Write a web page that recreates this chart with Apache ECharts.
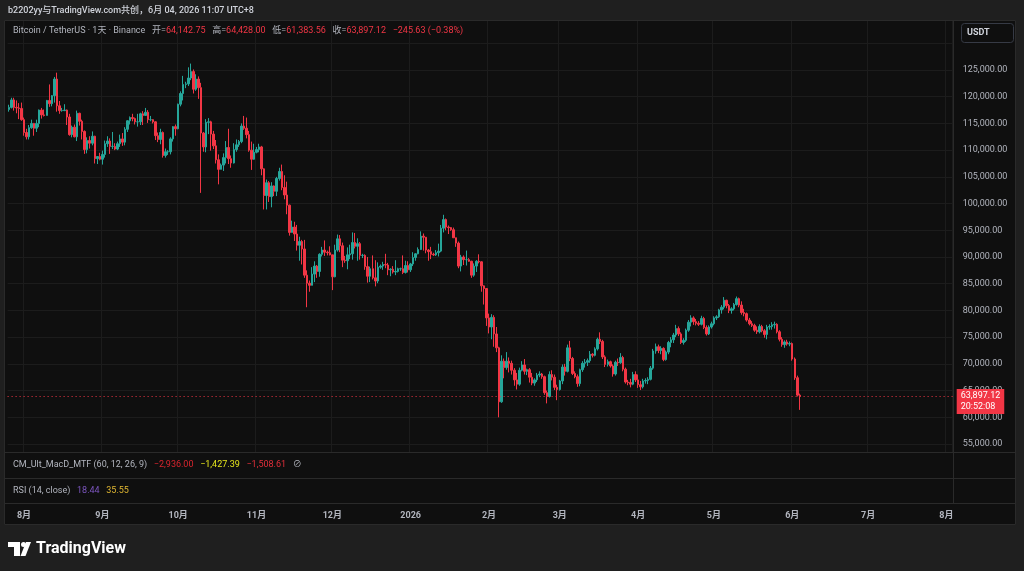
<!DOCTYPE html>
<html>
<head>
<meta charset="utf-8">
<title>BTCUSDT 1D</title>
<script src="https://cdn.jsdelivr.net/npm/echarts@6.0.0/dist/echarts.min.js"></script>
<style>
  html, body { margin: 0; padding: 0; background: #1f1f1f; }
  #chart { width: 1024px; height: 571px; }
</style>
</head>
<body>
<div id="chart"></div>
<script>
// daily candles, Binance BTC/USDT, 2025-07-26 .. 2026-06-04 (values in thousands of USDT)
const startDate = Date.UTC(2025, 6, 26);
const axisDays = 374; // axis runs on to 2026-08-03, empty after the last candle
const firstOpen = 117.6;

const closes = [
  // Jul 26-31
  118.0, 119.4, 118.0, 117.9, 117.8, 115.7,
  // Aug
  113.3, 112.5, 114.2, 115.0, 114.1, 115.0, 117.5, 116.6, 116.5, 119.3,
  118.7, 120.2, 123.3, 118.3, 117.4, 117.4, 117.5, 116.2, 112.9, 114.3,
  112.5, 116.9, 115.4, 113.5, 110.1, 111.8, 111.3, 112.6, 108.4, 108.8, 108.3,
  // Sep
  109.2, 111.2, 111.7, 110.7, 110.7, 110.2, 111.2, 112.1, 111.5, 113.9,
  115.5, 116.1, 115.9, 115.3, 115.3, 116.8, 116.5, 117.1, 115.7, 115.7,
  115.3, 112.7, 112.0, 113.3, 109.0, 109.7, 109.7, 112.1, 114.4, 114.0,
  // Oct
  118.6, 120.6, 122.3, 122.4, 123.5, 124.7, 121.4, 123.3, 121.7, 113.2,
  110.6, 115.2, 115.3, 113.0, 110.8, 108.2, 106.4, 107.2, 108.6, 110.5,
  108.4, 107.6, 110.1, 111.0, 111.6, 114.5, 114.1, 112.9, 110.0, 108.3, 109.6,
  // Nov
  110.1, 110.6, 106.5, 101.5, 103.9, 101.3, 103.3, 102.3, 104.7, 106.0,
  103.0, 101.6, 99.7, 94.6, 95.6, 94.3, 92.2, 92.9, 91.5, 86.6,
  85.1, 84.7, 86.8, 88.3, 87.3, 90.5, 91.3, 90.9, 90.8, 90.4,
  // Dec
  86.3, 91.3, 93.4, 92.1, 89.4, 89.3, 90.4, 90.6, 92.7, 92.0,
  92.5, 90.3, 90.3, 88.2, 86.4, 87.8, 86.1, 85.5, 88.1, 88.3,
  88.6, 88.5, 87.6, 87.7, 87.2, 87.3, 87.8, 87.8, 87.1, 88.4, 87.6,
  // Jan 2026
  88.7, 89.9, 90.6, 91.4, 93.9, 93.7, 91.3, 91.0, 90.5, 90.4,
  90.8, 91.1, 95.4, 97.0, 95.6, 95.5, 95.1, 93.6, 92.6, 88.3,
  90.0, 89.5, 89.5, 89.2, 86.6, 88.3, 89.2, 89.1, 84.6, 84.1, 78.6,
  // Feb
  76.9, 78.7, 75.6, 73.0, 62.9, 70.5, 69.3, 70.5, 70.1, 68.8,
  67.0, 66.2, 68.8, 69.8, 68.6, 68.9, 67.5, 66.4, 67.0, 67.9,
  68.1, 67.6, 64.6, 63.9, 68.0, 67.5, 65.6, 65.2,
  // Mar
  66.8, 69.4, 68.6, 73.0, 71.0, 68.2, 67.6, 66.3, 68.9, 70.1,
  70.3, 70.6, 71.8, 71.6, 72.8, 74.6, 74.2, 71.3, 69.9, 70.4,
  69.6, 68.1, 70.3, 70.2, 71.2, 69.0, 66.6, 66.5, 66.2, 68.0, 67.0,
  // Apr
  66.1, 65.7, 66.8, 66.9, 67.1, 69.2, 72.4, 73.2, 72.5, 72.9,
  70.8, 72.2, 74.0, 74.5, 75.4, 76.6, 75.6, 74.0, 74.4, 76.3,
  77.8, 78.6, 77.9, 77.6, 77.4, 78.5, 76.8, 75.6, 76.9, 77.5,
  // May
  78.6, 78.8, 80.1, 80.6, 81.9, 80.9, 80.0, 80.3, 81.1, 82.2,
  81.0, 79.6, 79.4, 78.2, 77.5, 77.2, 76.3, 76.0, 77.0, 76.2,
  75.5, 76.9, 77.0, 77.3, 77.4, 76.0, 74.6, 73.6, 74.1, 73.7, 73.8,
  // Jun 1-4
  70.9, 67.4, 64.14275, 63.89712,
];

const highs = [
  118.5, 119.8, 119.8, 119.3, 118.8, 118.9,
  116.1, 114.0, 114.7, 115.7, 115.1, 115.7, 117.6, 117.9, 117.6, 119.4,
  122.3, 120.3, 123.7, 124.5, 119.2, 117.9, 118.6, 117.6, 116.8, 114.6,
  114.8, 117.4, 117.0, 115.7, 113.7, 112.4, 112.6, 113.5, 112.7, 108.9, 109.5,
  109.9, 111.8, 112.6, 112.2, 113.4, 111.3, 111.6, 112.9, 113.2, 114.3,
  115.6, 116.3, 116.8, 116.1, 116.8, 117.0, 117.3, 117.9, 117.5, 116.4,
  115.8, 115.4, 113.3, 114.0, 113.5, 110.3, 110.0, 112.4, 114.5, 114.8,
  118.7, 121.0, 123.9, 122.8, 125.5, 126.2, 125.1, 124.2, 123.8, 122.6,
  113.4, 115.8, 116.0, 115.5, 113.6, 111.9, 109.2, 107.5, 109.4, 111.7,
  114.0, 109.0, 111.3, 112.0, 111.9, 115.0, 116.4, 116.1, 113.6, 111.6, 111.2,
  110.6, 111.2, 110.8, 106.6, 104.5, 104.2, 104.0, 103.4, 105.0, 106.7,
  107.3, 105.3, 104.1, 99.8, 96.8, 96.6, 96.0, 93.8, 93.2, 93.2,
  87.5, 85.6, 88.1, 89.2, 88.5, 90.7, 91.9, 93.1, 91.2, 92.0,
  90.4, 92.3, 94.2, 94.1, 92.7, 90.2, 91.8, 92.3, 94.6, 94.5,
  93.5, 92.8, 90.6, 90.5, 90.0, 88.2, 90.3, 89.4, 89.0, 88.6,
  89.1, 90.6, 88.9, 87.9, 88.3, 89.4, 88.0, 88.0, 90.3, 89.3, 89.2,
  88.9, 90.9, 90.7, 91.8, 94.8, 94.4, 93.6, 91.5, 91.9, 90.8,
  91.3, 92.5, 96.0, 97.9, 97.2, 95.9, 95.6, 95.5, 93.6, 92.9,
  90.4, 90.3, 91.2, 89.8, 89.3, 88.8, 89.4, 90.5, 89.2, 84.7, 84.1,
  79.4, 79.3, 79.1, 76.9, 73.2, 71.6, 71.0, 72.2, 71.2, 70.6,
  69.2, 68.3, 69.3, 70.5, 70.9, 69.1, 69.2, 68.3, 67.3, 68.3,
  68.6, 68.3, 67.8, 65.0, 68.6, 68.8, 68.0, 66.1,
  67.0, 69.9, 70.0, 73.6, 74.3, 71.3, 68.6, 68.0, 69.1, 70.5,
  70.9, 71.0, 72.4, 72.0, 73.1, 74.9, 75.9, 74.5, 71.6, 70.8,
  70.6, 69.9, 70.6, 71.0, 72.0, 71.5, 69.3, 67.0, 67.2, 68.5, 68.6,
  68.0, 66.8, 67.2, 67.3, 67.5, 69.6, 72.8, 73.8, 73.6, 73.3,
  73.1, 72.5, 74.3, 75.0, 75.8, 77.3, 77.0, 75.9, 74.8, 76.6,
  78.2, 79.1, 78.9, 78.4, 78.0, 79.0, 78.8, 77.2, 77.2, 77.9,
  78.9, 79.1, 80.3, 81.0, 82.5, 82.0, 81.2, 80.6, 81.4, 82.6,
  82.4, 81.7, 80.3, 79.6, 78.6, 78.0, 77.5, 77.0, 77.4, 77.3,
  76.5, 77.3, 77.4, 77.8, 77.9, 77.6, 76.3, 75.0, 74.4, 74.5, 74.2,
  74.0, 71.2, 67.8, 64.428,
];

const lows = [
  117.2, 117.8, 117.4, 116.9, 115.8, 115.5,
  112.7, 112.0, 112.0, 114.0, 112.7, 113.4, 114.3, 115.9, 116.3, 116.5,
  118.1, 118.2, 118.9, 117.2, 116.8, 117.2, 117.3, 114.7, 112.7, 112.4,
  112.4, 111.7, 114.6, 112.0, 109.3, 109.4, 110.3, 110.9, 107.5, 107.4, 108.1,
  107.3, 108.6, 110.6, 109.3, 110.2, 110.0, 110.0, 110.6, 110.8, 110.9,
  113.4, 114.8, 115.4, 114.8, 114.4, 114.7, 114.7, 116.4, 115.1, 115.4,
  115.0, 111.9, 111.5, 111.1, 108.6, 108.6, 109.1, 109.2, 111.6, 112.7,
  113.9, 118.2, 119.3, 121.6, 122.0, 123.1, 120.6, 121.1, 119.6, 102.0,
  109.7, 109.6, 113.0, 109.9, 110.2, 107.5, 103.6, 106.4, 106.1, 107.5,
  107.4, 106.7, 107.5, 109.7, 110.6, 111.3, 113.8, 112.2, 109.7, 106.3, 108.2,
  109.4, 109.6, 105.3, 98.9, 98.9, 100.3, 99.3, 101.4, 101.4, 104.3,
  102.5, 100.8, 98.0, 94.0, 94.6, 93.0, 91.2, 89.3, 88.6, 86.1,
  80.6, 83.5, 84.7, 85.3, 86.1, 86.3, 90.1, 90.2, 90.3, 90.3,
  83.8, 86.2, 91.0, 90.9, 88.1, 88.9, 87.7, 89.6, 89.5, 91.6,
  89.3, 89.5, 89.8, 87.6, 85.2, 85.3, 85.8, 84.5, 85.1, 87.8,
  87.6, 87.9, 86.6, 86.4, 86.9, 86.6, 87.1, 87.4, 86.8, 86.9, 87.1,
  87.2, 88.3, 89.3, 90.5, 91.3, 91.2, 90.7, 89.3, 89.6, 90.2,
  90.2, 90.1, 90.9, 94.6, 95.0, 94.3, 94.9, 93.6, 91.9, 87.9,
  87.3, 88.5, 88.4, 89.1, 86.1, 86.3, 87.2, 88.8, 83.5, 81.1, 77.1,
  75.7, 74.6, 73.2, 72.2, 60.0, 62.7, 67.3, 68.9, 68.4, 68.0,
  65.9, 65.2, 65.9, 68.6, 68.0, 67.9, 66.5, 66.0, 65.9, 66.6,
  67.5, 67.2, 64.2, 62.6, 63.7, 66.9, 65.1, 63.2,
  65.0, 66.2, 67.8, 68.4, 70.5, 67.9, 67.3, 65.7, 65.8, 68.5,
  69.3, 69.6, 70.2, 71.2, 71.4, 72.5, 73.7, 70.9, 69.4, 69.5,
  69.3, 67.6, 67.8, 69.6, 70.0, 68.6, 66.3, 66.0, 65.6, 66.0, 66.6,
  65.5, 65.1, 65.4, 66.3, 66.2, 66.9, 68.9, 71.9, 72.0, 71.8,
  70.5, 70.6, 71.8, 73.1, 73.9, 75.0, 75.2, 73.7, 73.6, 74.1,
  76.0, 77.0, 77.3, 77.2, 77.1, 77.2, 76.5, 75.3, 75.4, 76.6,
  77.2, 78.2, 78.6, 79.4, 80.2, 80.4, 79.5, 79.4, 80.0, 80.9,
  80.6, 79.2, 78.9, 77.9, 77.2, 76.9, 76.0, 75.6, 75.7, 75.9,
  74.9, 74.6, 76.4, 76.4, 76.6, 75.7, 74.2, 73.2, 73.0, 73.4, 73.3,
  70.6, 67.0, 63.9, 61.38356,
];

const lastPrice = 63.89712;
const yTicks = { min: 50, max: 135, step: 5 };

const UP = '#26a69a';
const DOWN = '#f23645';
const PANEL = '#0f0f0f';
const OUTER = '#1f1f1f';
const BORDER = '#2a2a2a';
const GRIDLINE = '#1c1c1c';
const TEXT = '#b2b5be';
const FONT = 'Roboto, "Noto Sans CJK SC", sans-serif';

// category dates
const dates = [];
for (let i = 0; i < axisDays; i++) {
  dates.push(new Date(startDate + i * 86400000).toISOString().slice(0, 10));
}

// crypto trades round the clock: each day's open is the previous day's close
const candles = closes.map((c, i) => {
  const o = i ? closes[i - 1] : firstOpen;
  return [o, c, Math.min(lows[i], o, c), Math.max(highs[i], o, c)];
});

const isMonthStart = (idx, val) => val.slice(8) === '01';

const chart = echarts.init(document.getElementById('chart'));

const option = {
  backgroundColor: PANEL,
  animation: false,
  grid: {
    left: 7.6, right: 71.3, top: 16.57, bottom: 100.29,
    outerBoundsMode: 'none',
  },
  xAxis: {
    type: 'category',
    data: dates,
    boundaryGap: true,
    axisLine: { show: false },
    axisTick: { show: false },
    axisLabel: {
      interval: isMonthStart,
      hideOverlap: false,
      margin: 41,
      color: TEXT,
      fontFamily: FONT,
      fontSize: 9,
      fontWeight: 'bold',
      formatter: (v) => {
        const m = +v.slice(5, 7);
        return m === 1 ? v.slice(0, 4) : m + '月';
      },
    },
    splitLine: { show: true, interval: isMonthStart, lineStyle: { color: GRIDLINE } },
  },
  yAxis: {
    type: 'value',
    position: 'right',
    min: yTicks.min,
    max: yTicks.max,
    interval: yTicks.step,
    axisLine: { show: false },
    axisTick: { show: false },
    axisLabel: {
      margin: 10,
      color: TEXT,
      fontFamily: FONT,
      fontSize: 9,
      formatter: (v) => (v <= 50 || v >= 130) ? '' :
        (v * 1000).toLocaleString('en-US') + '.00',
    },
    splitLine: { lineStyle: { color: GRIDLINE } },
  },
  series: [
    {
      type: 'candlestick',
      data: candles,
      barWidth: 2,
      itemStyle: {
        color: UP,
        color0: DOWN,
        borderColor: UP,
        borderColor0: DOWN,
        borderWidth: 1,
      },
      markLine: {
        silent: true,
        symbol: ['none', 'none'],
        lineStyle: { color: DOWN, type: [1, 3], width: 1 },
        label: {
          position: 'end',
          distance: 4,
          formatter: '63,897.12\n20:52:08',
          backgroundColor: DOWN,
          color: '#fff',
          fontFamily: FONT,
          fontSize: 9,
          lineHeight: 11,
          padding: [2, 4, 1, 4],
          offset: [0, 5],
        },
        data: [{ yAxis: lastPrice }],
      },
    },
  ],
  graphic: [
    // empty indicator panes under the price pane
    { type: 'rect', z: 100, shape: { x: 5, y: 452, width: 948, height: 51 }, style: { fill: PANEL } },
    // outer frame
    { type: 'rect', z: 100, shape: { x: 0, y: 0, width: 1024, height: 20 }, style: { fill: OUTER } },
    { type: 'rect', z: 100, shape: { x: 0, y: 525, width: 1024, height: 46 }, style: { fill: OUTER } },
    { type: 'rect', z: 100, shape: { x: 0, y: 0, width: 4, height: 571 }, style: { fill: OUTER } },
    { type: 'rect', z: 100, shape: { x: 1016, y: 0, width: 8, height: 571 }, style: { fill: OUTER } },
    { type: 'rect', z: 101, shape: { x: 4.5, y: 20.5, width: 1011, height: 504 }, style: { fill: null, stroke: BORDER } },
    { type: 'line', z: 101, shape: { x1: 4, y1: 452.5, x2: 1016, y2: 452.5 }, style: { stroke: BORDER } },
    { type: 'line', z: 101, shape: { x1: 4, y1: 478.5, x2: 1016, y2: 478.5 }, style: { stroke: BORDER } },
    { type: 'line', z: 101, shape: { x1: 4, y1: 503.5, x2: 1016, y2: 503.5 }, style: { stroke: BORDER } },
    { type: 'line', z: 101, shape: { x1: 953.5, y1: 20, x2: 953.5, y2: 503 }, style: { stroke: BORDER } },
    // currency box
    { type: 'rect', z: 102, shape: { x: 961.5, y: 23.5, width: 52, height: 19, r: 3 }, style: { fill: PANEL, stroke: '#363a45' } },
    { type: 'text', z: 103, x: 967, y: 33, style: { text: 'USDT', fill: '#d1d4dc', font: 'bold 9px ' + FONT, verticalAlign: 'middle' } },
    // header
    {
      type: 'text', z: 103, x: 8, y: 11,
      style: { text: 'b2202yy与TradingView.com共创，6月 04, 2026 11:07 UTC+8', fill: '#d1d4dc', font: '500 9px ' + FONT, verticalAlign: 'middle' },
    },
    // symbol legend
    {
      type: 'text', z: 103, x: 13, y: 31,
      style: {
        text: '{t|Bitcoin / TetherUS · 1天 · Binance}  {t|开=}{r|64,142.75}  {t|高=}{r|64,428.00}  {t|低=}{r|61,383.56}  {t|收=}{r|63,897.12}  {r|−245.63 (−0.38%)}',
        verticalAlign: 'middle',
        rich: {
          t: { fill: TEXT, font: '9px ' + FONT },
          r: { fill: DOWN, font: '9px ' + FONT },
        },
      },
    },
    // MACD pane legend
    {
      type: 'text', z: 103, x: 13, y: 465,
      style: {
        text: '{t|CM_Ult_MacD_MTF (60, 12, 26, 9)}  {a|−2,936.00}  {b|−1,427.39}  {c|−1,508.61}  {t|⊘}',
        verticalAlign: 'middle',
        rich: {
          t: { fill: TEXT, font: '9px ' + FONT },
          a: { fill: '#d9252e', font: '9px ' + FONT },
          b: { fill: '#e3e31c', font: '9px ' + FONT },
          c: { fill: '#e02f3a', font: '9px ' + FONT },
        },
      },
    },
    // RSI pane legend
    {
      type: 'text', z: 103, x: 13, y: 491,
      style: {
        text: '{t|RSI (14, close)}  {p|18.44}  {y|35.55}',
        verticalAlign: 'middle',
        rich: {
          t: { fill: TEXT, font: '9px ' + FONT },
          p: { fill: '#7e57c2', font: '9px ' + FONT },
          y: { fill: '#e0b732', font: '9px ' + FONT },
        },
      },
    },
    // TradingView logo
    { type: 'polygon', z: 103, shape: { points: [[8, 542], [20, 542], [20, 556], [14, 556], [14, 547], [8, 547]] }, style: { fill: '#fff' } },
    { type: 'circle', z: 103, shape: { cx: 23.5, cy: 544.5, r: 2.5 }, style: { fill: '#fff' } },
    { type: 'polygon', z: 103, shape: { points: [[26, 542], [31, 542], [25.5, 556], [20.5, 556]] }, style: { fill: '#fff' } },
    { type: 'text', z: 103, x: 36, y: 549, style: { text: 'TradingView', fill: '#fff', font: 'bold 16px ' + FONT, verticalAlign: 'middle' } },
  ],
};

chart.setOption(option);

window.addEventListener('resize', () => chart.resize());
</script>
</body>
</html>
